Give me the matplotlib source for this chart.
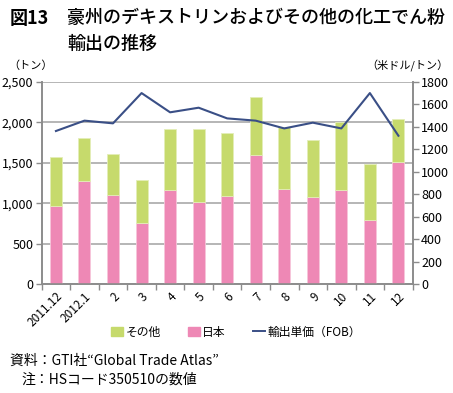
import matplotlib
matplotlib.use("Agg")
import matplotlib.pyplot as plt
from matplotlib.patches import Patch
from matplotlib.lines import Line2D
import numpy as np

plt.rcParams['font.family'] = ['Noto Sans CJK JP', 'DejaVu Sans']

months = ['2011.12', '2012.1', '2', '3', '4', '5', '6', '7', '8', '9', '10', '11', '12']
japan = [966, 1279, 1098, 757, 1168, 1020, 1086, 1600, 1180, 1073, 1168, 794, 1513]
total = [1567, 1805, 1608, 1287, 1916, 1920, 1871, 2315, 1945, 1780, 2002, 1488, 2044]
other = [t - j for t, j in zip(total, japan)]
price = [1362, 1454, 1430, 1699, 1528, 1569, 1474, 1454, 1385, 1436, 1385, 1699, 1320]

green = '#c6da6c'
pink = '#ee88b5'
navy = '#3a4f86'
grey = '#8c8c8c'

fig = plt.figure(figsize=(4.53, 3.93), dpi=100)
ax = fig.add_axes([0.092, 0.2766, 0.819, 0.5155])
ax2 = ax.twinx()

x = np.arange(len(months))
ax.bar(x, japan, width=0.42, color=pink, edgecolor='#f6c6db', linewidth=0.6, zorder=3)
ax.bar(x, other, width=0.42, bottom=japan, color=green, edgecolor='#e4eeb8', linewidth=0.6, zorder=3)
ax2.plot(x, price, color=navy, linewidth=1.5, zorder=4)

ax.set_xlim(-0.5, len(months) - 0.5)
ax.set_ylim(0, 2500)
ax2.set_ylim(0, 1800)
ax.set_yticks(range(0, 2501, 500))
ax.set_yticklabels(['{:,}'.format(v) for v in range(0, 2501, 500)])
ax2.set_yticks(range(0, 1801, 200))

ax.yaxis.grid(True, color='#b0b0b0', linewidth=1.3, zorder=0)
ax.set_axisbelow(True)

ax.set_xticks(x)
ax.set_xticklabels(months, rotation=45, ha='right', rotation_mode='anchor')
ax.set_xticks(np.arange(-0.5, len(months), 1), minor=True)
ax.tick_params(axis='x', which='major', length=0, pad=4, labelsize=8.5)
ax.tick_params(axis='x', which='minor', length=4, color=grey, width=1)
ax.tick_params(axis='y', length=4, color=grey, width=1, labelsize=9, pad=2)
ax2.tick_params(axis='y', length=4, color=grey, width=1, labelsize=9, pad=2)

for a in (ax, ax2):
    for s in a.spines.values():
        s.set_color(grey)
        s.set_linewidth(1.2)
    a.spines['top'].set_visible(False)

fig.text(0.022, 0.954, '図13', fontsize=13, fontweight='bold', va='center')
fig.text(0.148, 0.954, '豪州のデキストリンおよびその他の化工でん粉', fontsize=13,
         fontweight='medium', va='center')
fig.text(0.148, 0.889, '輸出の推移', fontsize=13, fontweight='medium', va='center')

fig.text(0.018, 0.832, '（トン）', fontsize=8, va='center')
fig.text(0.99, 0.832, '（米ドル/トン）', fontsize=8, va='center', ha='right')

handles = [Patch(color=green), Patch(color=pink), Line2D([0], [0], color=navy, linewidth=1.4)]
fig.legend(handles, ['その他', '日本', '輸出単価（FOB）'], loc='center',
           bbox_to_anchor=(0.521, 0.155), ncol=3, frameon=False, fontsize=8.5,
           handlelength=1.0, handleheight=0.8, handletextpad=0.2, columnspacing=2.3)

fig.text(0.022, 0.082, '資料：GTI社“Global Trade Atlas”', fontsize=10, va='center')
fig.text(0.048, 0.033, '注：HSコード350510の数値', fontsize=10, va='center')

fig.savefig('out.png', dpi=100)
